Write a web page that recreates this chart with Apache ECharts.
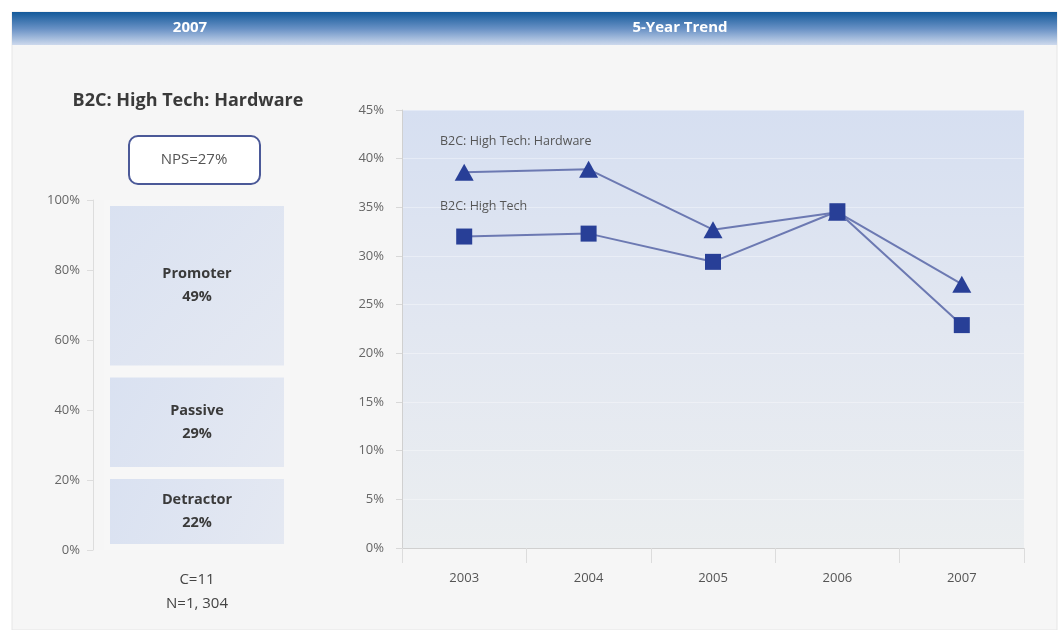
<!DOCTYPE html>
<html>
<head>
<meta charset="utf-8">
<title>B2C: High Tech: Hardware</title>
<script src="https://cdn.jsdelivr.net/npm/echarts@6/dist/echarts.min.js"></script>
<style>
  html, body { margin: 0; padding: 0; background: #ffffff; }
  #chart { width: 1061px; height: 630px; }
</style>
</head>
<body>
<div id="chart"></div>
<script>
// 2007 response breakdown (stacked bar, bottom to top)
const segmentNames = ['Detractor', 'Passive', 'Promoter'];
const segmentValues = [22, 29, 49];
const companies = 11;
const respondents = '1, 304';

// 5-year NPS trend
const years = ['2003', '2004', '2005', '2006', '2007'];
const hardwareNps = [38.6, 38.9, 32.7, 34.5, 27.1];
const highTechNps = [32.0, 32.3, 29.4, 34.6, 22.9];
const seriesNames = ['B2C: High Tech: Hardware', 'B2C: High Tech'];

const FONT = '"Open Sans", "Noto Sans", sans-serif';
const chart = echarts.init(document.getElementById('chart'));

const nps = segmentValues[2] - segmentValues[0];

const barFill = new echarts.graphic.LinearGradient(0, 0, 1, 1, [
  { offset: 0, color: '#d9e1f1' },
  { offset: 1, color: '#e5e9f2' }
]);

const barSeries = segmentNames.map((name, i) => ({
  name: name,
  type: 'bar',
  stack: 'share',
  xAxisIndex: 0,
  yAxisIndex: 0,
  barWidth: 186,
  data: [segmentValues[i]],
  itemStyle: { color: barFill, borderColor: '#f7f7f7', borderWidth: 6 },
  label: {
    show: true,
    position: 'inside',
    formatter: '{a}\n{c}%',
    fontFamily: FONT,
    fontWeight: 'bold',
    fontSize: 14.5,
    lineHeight: 23,
    color: '#3a3a3a'
  },
  emphasis: { disabled: true },
  silent: true
}));

chart.setOption({
  backgroundColor: '#ffffff',
  animation: false,
  textStyle: { fontFamily: FONT },
  graphic: [
    // panel background
    { type: 'rect', z: -10, shape: { x: 12, y: 12, width: 1045, height: 618 },
      style: { fill: '#f6f6f6', stroke: '#e6e6e6', lineWidth: 1 } },
    // header band
    { type: 'rect', z: -5, shape: { x: 12, y: 12, width: 1045, height: 33 },
      style: { fill: new echarts.graphic.LinearGradient(0, 0, 0, 1, [
        { offset: 0, color: '#13599a' },
        { offset: 0.5, color: '#6790c4' },
        { offset: 1, color: '#cdd9ed' }
      ]) } },
    { type: 'text', style: { x: 190, y: 28, text: '2007', align: 'center', verticalAlign: 'middle',
      fill: '#ffffff', font: 'bold 15px ' + FONT } },
    { type: 'text', style: { x: 680, y: 28, text: '5-Year Trend', align: 'center', verticalAlign: 'middle',
      fill: '#ffffff', font: 'bold 15px ' + FONT } },
    // left panel title
    { type: 'text', style: { x: 188, y: 101, text: 'B2C: High Tech: Hardware', align: 'center', verticalAlign: 'middle',
      fill: '#3a3a3a', font: 'bold 18px ' + FONT } },
    // NPS box
    { type: 'rect', shape: { x: 129, y: 136, width: 131, height: 48, r: 9 },
      style: { fill: '#ffffff', stroke: '#4b5998', lineWidth: 2 } },
    { type: 'text', style: { x: 194, y: 160, text: 'NPS=' + nps + '%', align: 'center', verticalAlign: 'middle',
      fill: '#555555', font: '15px ' + FONT } },
    // sample size
    { type: 'text', style: { x: 197, y: 580, text: 'C=' + companies, align: 'center', verticalAlign: 'middle',
      fill: '#444444', font: '15px ' + FONT } },
    { type: 'text', style: { x: 197, y: 604, text: 'N=' + respondents, align: 'center', verticalAlign: 'middle',
      fill: '#444444', font: '15px ' + FONT } },
    // trend series names
    { type: 'text', style: { x: 440, y: 141, text: seriesNames[0], align: 'left', verticalAlign: 'middle',
      fill: '#555555', font: '12.5px ' + FONT } },
    { type: 'text', style: { x: 440, y: 206, text: seriesNames[1], align: 'left', verticalAlign: 'middle',
      fill: '#555555', font: '12.5px ' + FONT } }
  ],
  grid: [
    { left: 93, top: 200, width: 208, height: 350 },
    { left: 402, top: 110, right: 37, bottom: 82, show: true, borderWidth: 0,
      backgroundColor: new echarts.graphic.LinearGradient(0, 0, 0, 1, [
        { offset: 0, color: '#d6dff1' },
        { offset: 0.5, color: '#e2e7f1' },
        { offset: 1, color: '#ebeef0' }
      ]) }
  ],
  xAxis: [
    { gridIndex: 0, type: 'category', data: ['2007'], show: false },
    { gridIndex: 1, type: 'category', data: years, boundaryGap: true,
      axisLine: { lineStyle: { color: '#d0d0d0' } },
      axisTick: { show: true, length: 15, lineStyle: { color: '#dcdcdc' } },
      axisLabel: { color: '#555555', fontSize: 13, margin: 24, fontFamily: FONT },
      splitLine: { show: false } }
  ],
  yAxis: [
    { gridIndex: 0, type: 'value', min: 0, max: 100, interval: 20,
      axisLine: { show: true, lineStyle: { color: '#dddddd' } },
      axisTick: { show: true, length: 6, lineStyle: { color: '#dddddd' } },
      axisLabel: { formatter: '{value}%', color: '#666666', fontSize: 13, margin: 13, fontFamily: FONT },
      splitLine: { show: false } },
    { gridIndex: 1, type: 'value', min: 0, max: 45, interval: 5,
      axisLine: { show: true, lineStyle: { color: '#d0d0d0' } },
      axisTick: { show: true, length: 6, lineStyle: { color: '#d8d8d8' } },
      axisLabel: { formatter: '{value}%', color: '#666666', fontSize: 13, margin: 18, fontFamily: FONT },
      splitLine: { show: true, lineStyle: { color: 'rgba(255,255,255,0.35)', width: 1 } } }
  ],
  series: barSeries.concat([
    { name: seriesNames[0], type: 'line', xAxisIndex: 1, yAxisIndex: 1,
      data: hardwareNps, symbol: 'triangle', symbolSize: [19, 17],
      lineStyle: { color: '#6c79b2', width: 2 },
      itemStyle: { color: '#283f97' }, silent: true, z: 3 },
    { name: seriesNames[1], type: 'line', xAxisIndex: 1, yAxisIndex: 1,
      data: highTechNps, symbol: 'rect', symbolSize: 16,
      lineStyle: { color: '#6c79b2', width: 2 },
      itemStyle: { color: '#283f97' }, silent: true, z: 4 }
  ])
});
</script>
</body>
</html>
